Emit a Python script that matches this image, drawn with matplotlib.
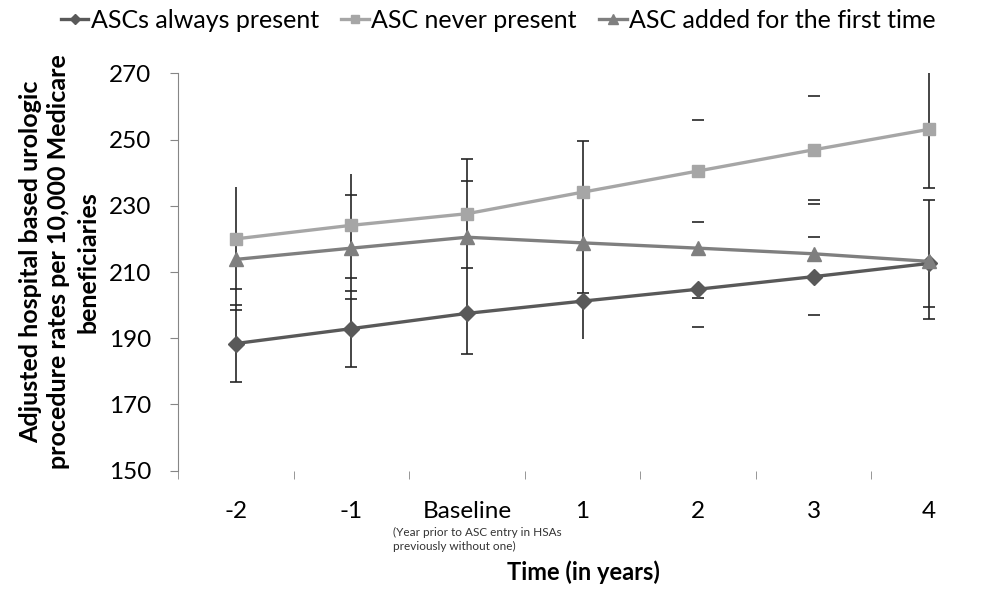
import numpy as np
import matplotlib
matplotlib.use("Agg")
import matplotlib.pyplot as plt

plt.rcParams['font.family'] = ['Lato', 'DejaVu Sans']

# categories (years relative to ASC entry)
categories = ['-2', '-1', 'Baseline', '1', '2', '3', '4']

# adjusted rates per 10,000 beneficiaries
always_present = [188.4, 192.9, 197.5, 201.2, 204.8, 208.6, 212.6]
never_present = [220.0, 224.1, 227.6, 234.1, 240.5, 246.9, 253.1]
added_first = [213.8, 217.2, 220.5, 218.8, 217.2, 215.5, 213.2]

# visible error-bar caps (nan = no cap visible in the figure)
nan = np.nan
always_cap_hi = [199.9, 204.4, nan, nan, nan, 220.5, nan]
always_cap_lo = [176.9, 181.2, 185.1, nan, 193.5, 196.9, 199.4]
never_cap_hi = [nan, nan, 244.1, 249.5, 255.8, 263.2, nan]
never_cap_lo = [205.0, 208.2, 211.3, nan, 225.2, 230.6, 235.3]
added_cap_hi = [nan, 233.3, 237.5, nan, nan, 231.6, 231.6]
added_cap_lo = [198.6, 201.7, nan, 203.6, 202.2, nan, 195.9]

# visible error-bar whisker segments (category index, low, high)
whisker_idx = [0, 1, 2, 3, 6, 6]
whisker_lo = [176.9, 181.2, 185.1, 189.8, 235.3, 195.9]
whisker_hi = [235.7, 239.7, 244.1, 249.5, 270.0, 231.6]

x = np.arange(len(categories))

fig = plt.figure(figsize=(9.87, 5.91), dpi=100)
ax = fig.add_axes([178 / 987, 1 - 470.7 / 591, (987 - 178) / 987, (470.7 - 73.3) / 591])

err_color = '#262626'
ax.vlines(whisker_idx, whisker_lo, whisker_hi, color=err_color, lw=1.2, zorder=2)
for caps in [always_cap_hi, always_cap_lo, never_cap_hi, never_cap_lo, added_cap_hi, added_cap_lo]:
    ax.plot(x, caps, ls='none', marker='_', ms=9, mew=1.2, color=err_color, zorder=2)

ax.plot(x, always_present, color='#595959', lw=2.4, marker='D', ms=8, label='ASCs always present', zorder=3)
ax.plot(x, never_present, color='#A6A6A6', lw=2.4, marker='s', ms=9, label='ASC never present', zorder=3)
ax.plot(x, added_first, color='#7F7F7F', lw=2.4, marker='^', ms=10, label='ASC added for the first time', zorder=3)

ax.set_xlim(-0.5, 6.437)
ax.set_ylim(150, 270)
ax.set_yticks(np.arange(150, 271, 20))
ax.set_xticks(x)
ax.set_xticklabels(categories)
ax.set_xticks(np.arange(-0.5, 7, 1), minor=True)

for s in ['top', 'right', 'bottom']:
    ax.spines[s].set_visible(False)
ax.spines['left'].set_color('#868686')
ax.tick_params(axis='y', direction='out', length=6, color='#868686', labelsize=17.5, pad=13)
ax.tick_params(axis='x', which='major', length=0, labelsize=17.5, pad=22)
ax.tick_params(axis='x', which='minor', direction='out', length=6, color='#868686')

fig.text(59 / 987, 1 - 262 / 591,
         'Adjusted hospital based urologic\nprocedure rates per 10,000 Medicare\nbeneficiaries',
         rotation=90, ha='center', va='center', multialignment='center',
         fontsize=18, fontweight='bold', linespacing=1.3)

fig.text(393 / 987, 1 - 527 / 591, '(Year prior to ASC entry in HSAs\npreviously without one)',
         ha='left', va='top', fontsize=8.5, color='#333333', linespacing=1.3)

fig.text(583 / 987, 1 - 572 / 591, 'Time (in years)', ha='center', va='center',
         fontsize=17, fontweight='bold')

fig.legend(loc='center', bbox_to_anchor=(0.505, 1 - 20 / 591), ncol=3, frameon=False,
           fontsize=18, handlelength=1.1, handletextpad=0.1, columnspacing=0.9,
           markerscale=0.7)

fig.savefig('out.png', dpi=100)
